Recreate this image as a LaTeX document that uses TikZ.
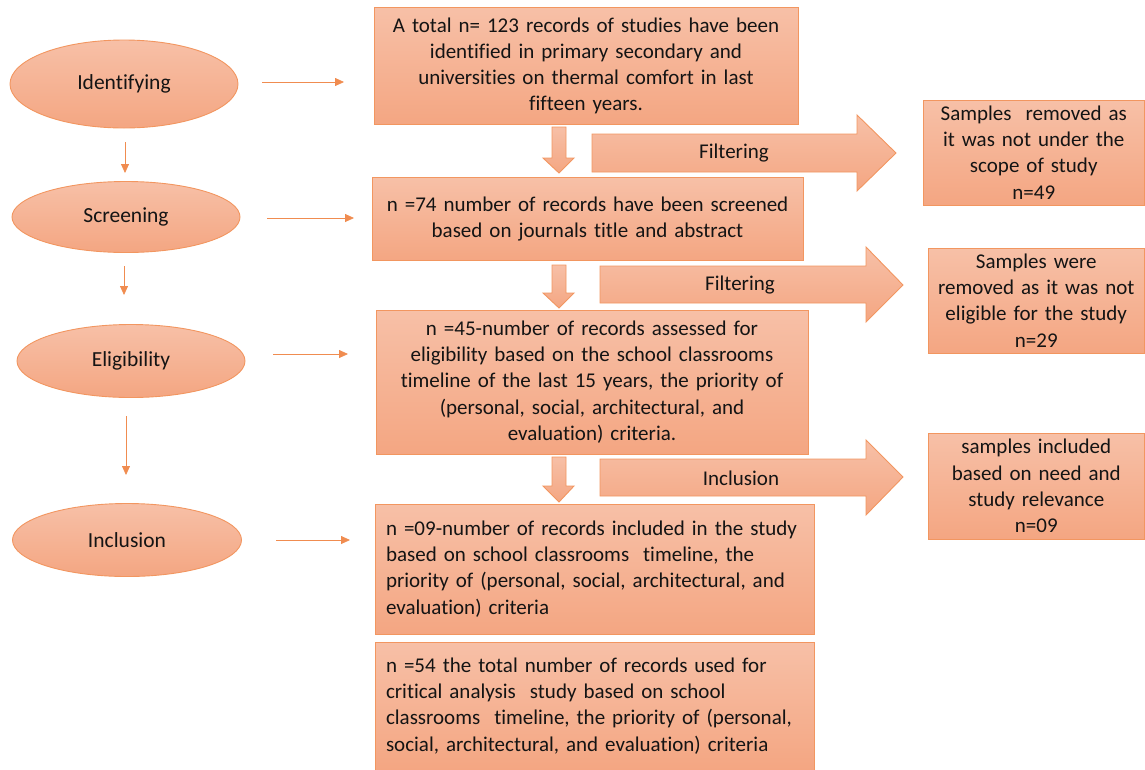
\documentclass[tikz,border=0pt]{standalone}
\usepackage{fontspec}
\setmainfont{Carlito}[Ligatures=NoCommon]
\usetikzlibrary{shapes.geometric,arrows.meta}
\definecolor{ftop}{RGB}{247,192,167}
\definecolor{fbot}{RGB}{244,166,130}
\definecolor{bord}{RGB}{242,150,96}
\definecolor{lineor}{RGB}{240,140,80}
\definecolor{txt}{RGB}{20,20,20}
\tikzset{
  shade/.style={top color=ftop, bottom color=fbot, draw=bord, line width=0.9pt},
  oval/.style={shade, ellipse, inner sep=0pt, text=txt, font=\fontsize{21.5}{26}\selectfont},
  box/.style={shade, rectangle, inner xsep=6pt, inner ysep=0pt, align=center, text=txt, font=\fontsize{21}{26.2}\selectfont},
  lbox/.style={shade, rectangle, inner xsep=11pt, inner ysep=0pt, align=left, text=txt, font=\fontsize{21}{26.2}\selectfont},
  conn/.style={draw=lineor, line width=0.8pt, -{Triangle[length=9pt,width=8pt]}},
  blk/.style={shade, line join=miter},
  lbl/.style={font=\fontsize{21}{26}\selectfont, text=txt, inner sep=0pt}
}
\begin{document}
\begin{tikzpicture}[x=1pt,y=-1pt]
\useasboundingbox (0,0) rectangle (1145,769);
% ellipses
\node[oval, minimum width=228pt, minimum height=88pt] (iden) at (124,84) {Identifying};
\node[oval, minimum width=228pt, minimum height=71pt] (scr) at (126,217) {Screening};
\node[oval, minimum width=228pt, minimum height=73pt] (eli) at (131,361) {Eligibility};
\node[oval, minimum width=229pt, minimum height=73pt] (inc) at (127,540) {Inclusion};
% vertical connectors
\coordinate (v1a) at (125,142); \coordinate (v1b) at (125,173);
\coordinate (v2a) at (124,266); \coordinate (v2b) at (124,295);
\coordinate (v3a) at (126,416); \coordinate (v3b) at (126,475);
\draw[conn] (v1a) -- (v1b);
\draw[conn] (v2a) -- (v2b);
\draw[conn] (v3a) -- (v3b);
% horizontal connectors
\coordinate (h1a) at (262,82); \coordinate (h1b) at (344,82);
\coordinate (h2a) at (267,218); \coordinate (h2b) at (354,218);
\coordinate (h3a) at (273,354); \coordinate (h3b) at (348,354);
\coordinate (h4a) at (276,540); \coordinate (h4b) at (350,540);
\draw[conn] (h1a) -- (h1b);
\draw[conn] (h2a) -- (h2b);
\draw[conn] (h3a) -- (h3b);
\draw[conn] (h4a) -- (h4b);
% main boxes
\node[box, minimum width=424pt, minimum height=117pt, text width=412pt] (b1) at (586,66) {A total n= 123 records of studies have been\\identified in primary secondary and\\universities on thermal comfort in last\\fifteen years.};
\node[box, minimum width=431pt, minimum height=83pt, text width=419pt] (b2) at (587.5,219) {n =74 number of records have been screened\\based on journals title and abstract};
\node[box, minimum width=432pt, minimum height=144pt, text width=420pt] (b3) at (592,382) {n =45-number of records assessed for\\eligibility based on the school classrooms\\timeline of the last 15 years, the priority of\\(personal, social, architectural, and\\evaluation) criteria.};
\node[lbox, minimum width=439pt, minimum height=130pt, text width=417pt] (b4) at (594.5,569) {n =09-number of records included in the study\\based on school classrooms\ \ timeline, the\\priority of (personal, social, architectural, and\\evaluation) criteria};
\node[lbox, minimum width=439pt, minimum height=128pt, text width=417pt] (b5) at (594.5,706) {n =54 the total number of records used for\\critical analysis\ \ study based on school\\classrooms\ \ timeline, the priority of (personal,\\social, architectural, and evaluation) criteria};
% right boxes
\node[box, minimum width=221.5pt, minimum height=105pt, text width=209pt] (r1) at (1033.75,152.5) {Samples\ \ removed as\\it was not under the\\scope of study\\n=49};
\node[box, minimum width=216.5pt, minimum height=105pt, text width=204pt] (r2) at (1036.25,300.5) {Samples were\\removed as it was not\\eligible for the study\\n=29};
\node[box, minimum width=216.5pt, minimum height=106pt, text width=204pt] (r3) at (1036.25,486) {samples included\\based on need and\\study relevance\\n=09};
% down block arrows
\path[blk] (552,127) -- (566,127) -- (566,158) -- (574,158) -- (559,173) -- (543,158) -- (552,158) -- cycle;
\path[blk] (552,265) -- (566,265) -- (566,293) -- (574,293) -- (559,308) -- (543,293) -- (552,293) -- cycle;
\path[blk] (552,457) -- (566,457) -- (566,486) -- (574,486) -- (559,502) -- (543,486) -- (552,486) -- cycle;
% right block arrows
\path[blk] (592,134) -- (857,134) -- (857,115) -- (896,153) -- (857,191) -- (857,172) -- (592,172) -- cycle;
\path[blk] (600,266) -- (866,266) -- (866,247) -- (903,285) -- (866,322) -- (866,303) -- (600,303) -- cycle;
\path[blk] (600,459) -- (866,459) -- (866,440) -- (903,477) -- (866,515) -- (866,496) -- (600,496) -- cycle;
\node[lbl] (f1) at (734,153) {Filtering};
\node[lbl] (f2) at (740,285) {Filtering};
\node[lbl] (f3) at (741,478) {Inclusion};
\end{tikzpicture}
\end{document}
